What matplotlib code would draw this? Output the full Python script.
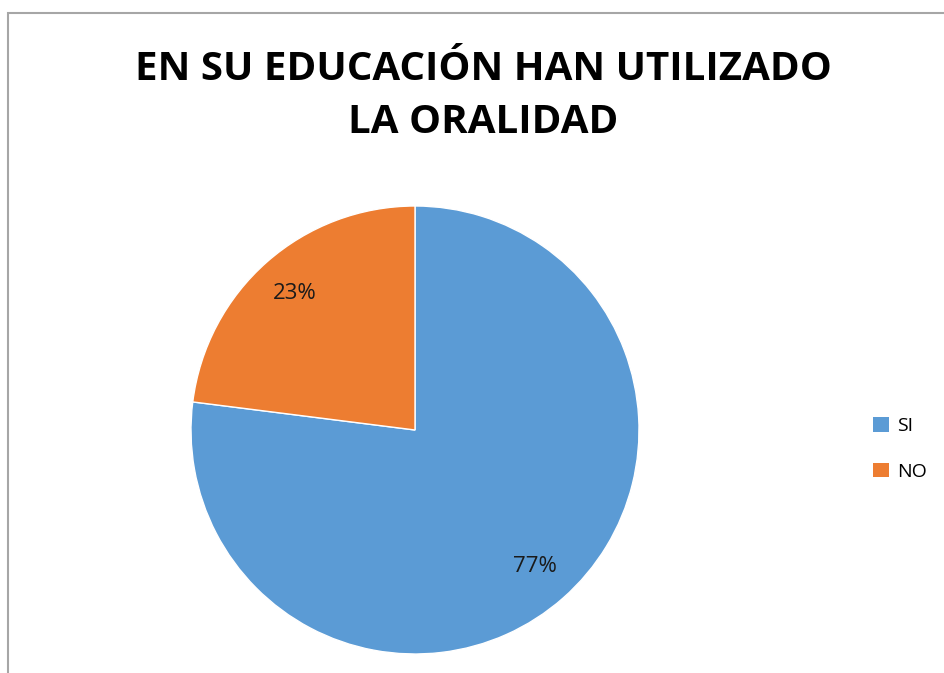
import matplotlib.pyplot as plt
from matplotlib.patches import Rectangle, Patch

labels = ['SI', 'NO']
values = [77, 23]
colors = ['#5B9BD5', '#ED7D31']
title = 'EN SU EDUCACIÓN HAN UTILIZADO\nLA ORALIDAD'

W, H = 945, 673
fig = plt.figure(figsize=(W / 100, H / 100), dpi=100)

# chart border (only top and left are visible in the reference)
fig.patches.append(Rectangle((8 / W, -0.01), 1.0, (H - 13) / H + 0.01,
                             transform=fig.transFigure, fill=False,
                             edgecolor='#A6A6A6', linewidth=1.5))

cx, cy, r = 415, 430, 224
ax = fig.add_axes([(cx - r) / W, (H - cy - r) / H, 2 * r / W, 2 * r / H])
wedges, texts, autotexts = ax.pie(values, colors=colors, startangle=90, counterclock=False,
                                  autopct='%1.0f%%', pctdistance=0.81,
                                  wedgeprops=dict(edgecolor='white', linewidth=1),
                                  textprops=dict(fontsize=16, family='Open Sans', color='#1a1a1a'))
ax.set_xlim(-1, 1)
ax.set_ylim(-1, 1)
ax.set_aspect('equal')
ax.axis('off')

fig.text(483 / W, 1 - 96 / H, title, ha='center', va='center', fontsize=29,
         fontweight='bold', family='Open Sans', linespacing=1.45)

handles = [Patch(facecolor=c, edgecolor='none') for c in colors]
fig.legend(handles, labels, loc='center left', bbox_to_anchor=(856 / W, 1 - 449 / H),
           frameon=False, prop=dict(family='Open Sans', size=14),
           handlelength=0.8, handleheight=0.8, handletextpad=0.4, labelspacing=1.4)

fig.savefig('out.png', dpi=100)
